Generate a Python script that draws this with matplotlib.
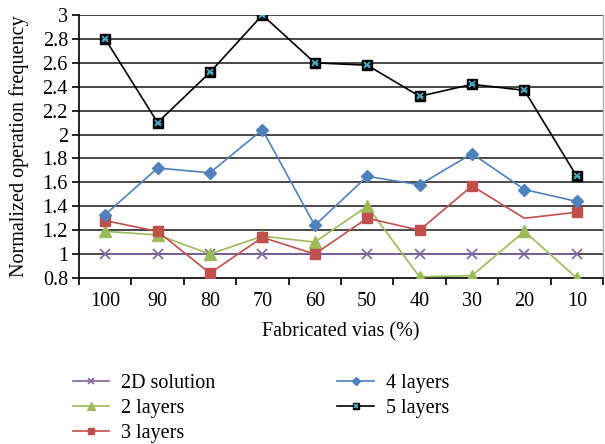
import matplotlib
matplotlib.use("Agg")
import matplotlib.pyplot as plt
from matplotlib.lines import Line2D
import numpy as np

# Data
vias = ["100", "90", "80", "70", "60", "50", "40", "30", "20", "10"]
sol_2d = [1.0, 1.0, 1.0, 1.0, 1.0, 1.0, 1.0, 1.0, 1.0, 1.0]
layers_2 = [1.19, 1.16, 1.0, 1.15, 1.10, 1.40, 0.81, 0.82, 1.19, 0.80]
layers_3 = [1.28, 1.19, 0.84, 1.14, 1.0, 1.30, 1.20, 1.57, 1.30, 1.35]
layers_4 = [1.33, 1.72, 1.68, 2.04, 1.24, 1.65, 1.58, 1.84, 1.54, 1.44]
layers_5 = [2.80, 2.10, 2.52, 3.0, 2.60, 2.58, 2.32, 2.42, 2.37, 1.65]
yticks = [0.8, 1, 1.2, 1.4, 1.6, 1.8, 2, 2.2, 2.4, 2.6, 2.8, 3]

plt.rcParams["font.family"] = ["Liberation Serif", "DejaVu Serif"]
plt.rcParams["font.size"] = 14.5

fig = plt.figure(figsize=(6.05, 4.44), dpi=100)
W, H = 605, 444
ax = fig.add_axes([79 / W, 1 - 278 / H, (603 - 79) / W, (278 - 15) / H])

x = np.arange(len(vias))

for yv in yticks[1:]:
    ax.axhline(yv, color="#3a3a3a", lw=1.3, zorder=1)

lw = 1.2
ax.plot(x, sol_2d, color="#8064A2", lw=lw, marker="x", ms=7, mew=1.2,
        label="2D solution", zorder=3)
ax.plot(x, layers_2, color="#9BBB59", lw=lw, marker="^", ms=8,
        label="2 layers", zorder=3)
ax.plot(x, layers_3, color="#C0504D", lw=lw, marker="s", ms=7,
        markevery=[0, 1, 2, 3, 4, 5, 6, 7, 9], label="3 layers", zorder=3)
ax.plot(x, layers_4, color="#4F81BD", lw=lw, marker="D", ms=6,
        label="4 layers", zorder=3)
ax.plot(x, layers_5, color="black", lw=lw, marker="s", ms=7,
        mfc="black", mec="black", zorder=3)
ax.plot(x, layers_5, ls="none", marker="x", ms=5, mew=1.3, color="#4BACC6",
        zorder=4)
ax.plot(x, layers_5, ls="none", marker="_", ms=5, mew=1.0, color="#4BACC6",
        zorder=4)

ax.set_xlim(-0.5, len(vias) - 0.5)
ax.set_ylim(0.8, 3.0)
ax.set_yticks(yticks)
ax.set_yticklabels([f"{v:g}" for v in yticks])
ax.set_xticks(x)
ax.set_xticklabels(vias)
ax.set_xticks(np.arange(len(vias) + 1) - 0.5, minor=True)
ax.tick_params(axis="x", which="major", length=0, pad=10)
ax.tick_params(axis="x", which="minor", length=5, width=1.2, direction="out")
ax.tick_params(axis="y", length=5, width=1.2, direction="out", pad=3)

ax.spines["top"].set_visible(False)
ax.spines["right"].set_color("#b0b0b0")
ax.spines["right"].set_linewidth(1.0)
ax.spines["left"].set_linewidth(1.2)
ax.spines["bottom"].set_linewidth(1.2)

ax.set_ylabel("Normalized operation frequency", labelpad=10)
ax.set_xlabel("Fabricated vias (%)", labelpad=8)

# Legend: the 5-layer entry combines a black square with a cyan cross
h5 = (Line2D([], [], color="black", lw=lw, marker="s", ms=7, mfc="black"),
      Line2D([], [], ls="none", marker="x", ms=5, mew=1.3, color="#4BACC6"))
handles, labels = ax.get_legend_handles_labels()
handles.append(h5)
labels.append("5 layers")
fig.legend(handles, labels, loc="upper left", bbox_to_anchor=(65 / W, 1 - 366 / H),
           ncol=2, frameon=False, columnspacing=6.05, handlelength=1.8,
           handletextpad=0.6, labelspacing=0.3, borderaxespad=0,
           markerscale=0.7)

fig.savefig("out.png", dpi=100)
